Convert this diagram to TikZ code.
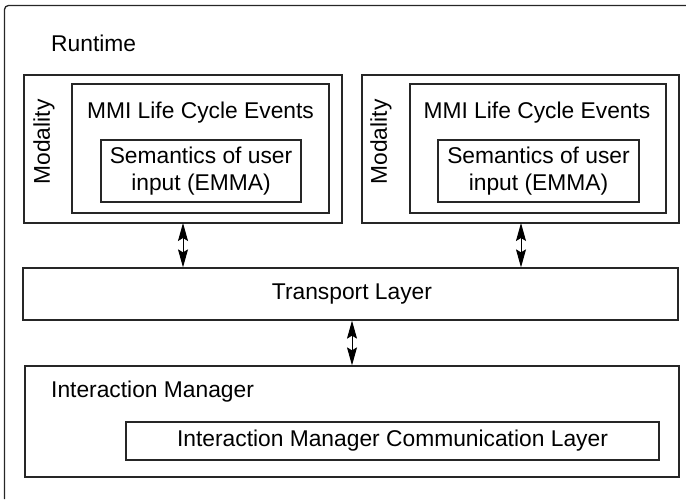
\documentclass[tikz,border=0pt]{standalone}
\usepackage{fontspec}
\setmainfont{Liberation Sans}
\usetikzlibrary{arrows.meta}
\begin{document}
\begin{tikzpicture}[x=1pt,y=-1pt,
  box/.style={draw=black!85,line width=1.3pt},
  lbl/.style={font=\fontsize{22.8}{27}\selectfont,inner sep=0pt},
  dbl/.style={line width=1pt,{Stealth[length=18pt,width=10pt,inset=3pt]}-{Stealth[length=18pt,width=10pt,inset=3pt]}}]
\useasboundingbox (0,0) rectangle (686,499);
% outer runtime frame (right and bottom edges lie outside the picture)
\draw[box,rounded corners=4pt] (4.5,499) -- (4.5,5.5) -- (686,5.5);
\node[lbl,anchor=west] (rt) at (51,43) {Runtime};
% left modality
\draw[box] (24,75) rectangle (342,223);
\coordinate (m1b) at (183,223);
\draw[box] (72,84) rectangle (329,213);
\draw[box] (101,140) rectangle (301,202);
\node[lbl,rotate=90] (mod1) at (44,142) {Modality};
\node[lbl] (mmi1) at (200.5,113) {MMI Life Cycle Events};
\node[lbl,align=center] (sem1) at (201,171) {Semantics of user\\input (EMMA)};
% right modality
\draw[box] (362,75) rectangle (679,223);
\coordinate (m2b) at (521,223);
\draw[box] (410,84) rectangle (666,213);
\draw[box] (438,140) rectangle (639,202);
\node[lbl,rotate=90] (mod2) at (381,142) {Modality};
\node[lbl] (mmi2) at (537,113) {MMI Life Cycle Events};
\node[lbl,align=center] (sem2) at (538.5,171) {Semantics of user\\input (EMMA)};
% transport layer
\node[box,minimum width=655pt,minimum height=52pt,inner sep=0pt] (tl) at (350.5,294) {};
\node[lbl] (tlt) at (352,294) {Transport Layer};
% interaction manager
\node[box,minimum width=654pt,minimum height=111pt,inner sep=0pt] (im) at (352,421.5) {};
\node[lbl,anchor=west] (imt) at (51,392) {Interaction Manager};
\node[box,minimum width=533pt,minimum height=38pt,inner sep=0pt] (imcl) at (392.5,441) {};
\node[lbl] (imclt) at (392.5,441) {Interaction Manager Communication Layer};
% arrows
\draw[dbl] (m1b) -- (m1b |- tl.north);
\draw[dbl] (m2b) -- (m2b |- tl.north);
\draw[dbl] (tl.south -| 352,0) -- (im.north -| 352,0);
\end{tikzpicture}
\end{document}
